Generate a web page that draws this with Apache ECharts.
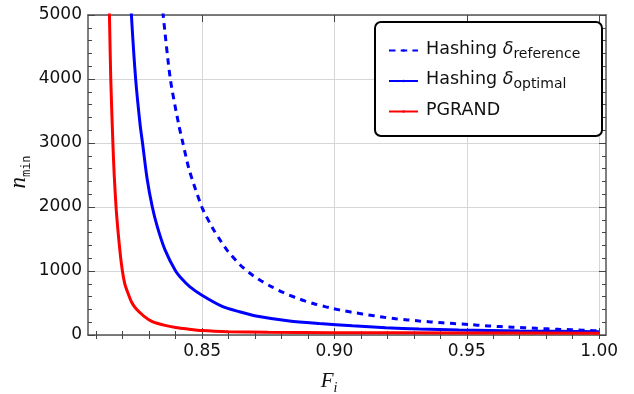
<!DOCTYPE html>
<html><head><meta charset="utf-8">
<script src="https://cdn.jsdelivr.net/npm/echarts@6/dist/echarts.min.js"></script>
<style>html,body{margin:0;padding:0;background:#fff}#c{width:634px;height:394px}</style>
</head><body><div id="c"></div>
<script>
// ---- data ----
const seriesNames = ['Hashing δ reference', 'Hashing δ optimal', 'PGRAND'];
const xMajorTicks = [0.85, 0.90, 0.95, 1.00];
const xTickLabels = ['0.85', '0.90', '0.95', '1.00'];
const xMinorTicks = [0.81,0.82,0.83,0.84,0.85,0.86,0.87,0.88,0.89,0.90,0.91,0.92,0.93,0.94,0.95,0.96,0.97,0.98,0.99,1.00];
const yTickLabels = ['0', '1000', '2000', '3000', '4000', '5000'];

const hashRef = [
  [0.8340,5600],[0.8353,5000],[0.8380,4000],[0.8412,3281],[0.8427,3010],[0.8450,2600],
  [0.8476,2266],[0.8502,1970],[0.8528,1760],[0.8547,1620],[0.8572,1460],[0.8597,1310],
  [0.8628,1165],[0.8654,1055],[0.8692,930],[0.8724,845],[0.8762,755],[0.8806,665],
  [0.8850,590],[0.8888,533],[0.8925,485],[0.8968,440],[0.9018,393],[0.9062,358],
  [0.9106,328],[0.9150,300],[0.9188,277],[0.9232,255],[0.9276,236],[0.9320,219],
  [0.9364,204],[0.9408,191],[0.9452,178],[0.9494,167],[0.9540,154],[0.9584,142],
  [0.9628,131],[0.9672,121],[0.9716,113],[0.9760,105],[0.9804,97],[0.9849,89],
  [0.9893,82],[0.9937,75],[0.9980,68],[1.0000,66]
];
const hashOpt = [
  [0.8224,5800],[0.8233,5000],[0.8249,4000],[0.8266,3281],[0.8275,3000],[0.8292,2450],
  [0.8312,2000],[0.8331,1690],[0.8360,1330],[0.8400,1000],[0.8425,870],[0.8452,760],
  [0.8498,625],[0.8578,443],[0.8640,365],[0.8704,297],[0.8830,219],[0.8943,180],
  [0.9068,145],[0.9194,114],[0.9320,94],[0.9470,78],[0.9700,64],[1.0000,52]
];
const pgrand = [
  [0.8147,5600],[0.8150,5000],[0.8155,4000],[0.8163,3000],[0.8168,2500],[0.8175,2000],
  [0.8182,1640],[0.8190,1300],[0.8199,1000],[0.8208,800],[0.8218,677],[0.8233,520],
  [0.8249,417],[0.8280,295],[0.8312,208],[0.8360,150],[0.8400,118],[0.8445,94],
  [0.8500,70],[0.8600,52],[0.8750,42],[0.9000,36],[0.9500,32],[1.0000,28]
];

// ---- chart ----
const XMIN = 0.8069, XMAX = 1.0026;
const frame = {show: true, onZero: false, lineStyle: {color: '#555', width: 1.5}};
const tickStyle = {color: '#444', width: 1};
const lab = {fontFamily: 'DejaVu Sans', fontSize: 17, color: '#111'};

function xAx(pos, major, extra) {
  return Object.assign({
    type: 'value', min: XMIN, max: XMAX, position: pos,
    axisLine: major ? frame : {show: false},
    axisTick: {show: true, inside: true, length: major ? 7 : 4, lineStyle: tickStyle,
               customValues: major ? xMajorTicks : xMinorTicks},
    axisLabel: {show: false},
    splitLine: {show: false}
  }, extra || {});
}

const chart = echarts.init(document.getElementById('c'), null, {renderer: 'canvas'});
chart.setOption({
  animation: false,
  backgroundColor: '#fff',
  grid: {left: 88, right: 28, top: 15, bottom: 59, containLabel: false, outerBoundsMode: 'none'},
  xAxis: [
    xAx('bottom', true, {
      axisLabel: Object.assign({show: true, margin: 8, customValues: xMajorTicks,
        formatter: v => xTickLabels[xMajorTicks.findIndex(t => Math.abs(t - v) < 1e-6)]}, lab),
      splitLine: {show: true, lineStyle: {color: '#d6d6d6', width: 1}},
      name: '{f|F}{s|i}', nameLocation: 'middle', nameGap: 36,
      nameTextStyle: {padding: [0, 36, 0, 0], rich: {
        f: {fontFamily: 'Liberation Serif', fontStyle: 'italic', fontSize: 21, color: '#111', verticalAlign: 'bottom', padding: [0,0,3,0]},
        s: {fontFamily: 'Liberation Serif', fontStyle: 'italic', fontSize: 14, color: '#111', verticalAlign: 'bottom'}
      }}
    }),
    xAx('top', true),
    xAx('bottom', false),
    xAx('top', false)
  ],
  yAxis: [
    {type: 'value', min: 0, max: 5000, interval: 1000, position: 'left',
     axisLine: frame,
     axisTick: {show: true, inside: true, length: 7, lineStyle: tickStyle},
     minorTick: {show: true, splitNumber: 5, length: 4, lineStyle: tickStyle},
     axisLabel: Object.assign({margin: 6, formatter: v => yTickLabels[Math.round(v / 1000)]}, lab),
     splitLine: {show: true, lineStyle: {color: '#d6d6d6', width: 1}},
     name: '{n|n}{s|min}', nameLocation: 'middle', nameGap: 55, nameMoveOverlap: false,
     nameTextStyle: {padding: [0, 0, 0, 6], rich: {
       n: {fontFamily: 'Liberation Serif', fontStyle: 'italic', fontSize: 23, color: '#111', verticalAlign: 'bottom', padding: [0,0,3,0]},
       s: {fontFamily: 'DejaVu Sans Mono', fontSize: 12, color: '#111', verticalAlign: 'bottom'}
     }}
    },
    {type: 'value', min: 0, max: 5000, interval: 1000, position: 'right',
     axisLine: frame,
     axisTick: {show: true, inside: true, length: 7, lineStyle: tickStyle},
     minorTick: {show: true, splitNumber: 5, length: 4, lineStyle: tickStyle},
     axisLabel: {show: false}, splitLine: {show: false}}
  ],
  graphic: [{
    type: 'rect', z: 3, left: 374, top: 21,
    shape: {width: 227, height: 114, r: 6},
    style: {fill: '#fff', stroke: '#000', lineWidth: 2}
  }],
  legend: {
    z: 10, orient: 'vertical', left: 383, top: 35, itemWidth: 29, itemHeight: 3, itemGap: 9.5,
    data: seriesNames,
    formatter: function (name) {
      if (name === seriesNames[0]) return '{a|Hashing }{d|δ}{s|reference}';
      if (name === seriesNames[1]) return '{a|Hashing }{d|δ}{s|optimal}';
      return '{a|PGRAND}';
    },
    textStyle: {rich: {
      a: {fontFamily: 'DejaVu Sans', fontSize: 17.5, color: '#111', verticalAlign: 'bottom', padding: [0,0,3,3]},
      d: {fontFamily: 'DejaVu Sans', fontStyle: 'italic', fontSize: 17.5, color: '#111', verticalAlign: 'bottom', padding: [0,0,3,0]},
      s: {fontFamily: 'DejaVu Sans', fontSize: 14, color: '#111', verticalAlign: 'bottom'}
    }}
  },
  series: [
    {name: seriesNames[0], type: 'line', data: hashRef, showSymbol: false, symbol: 'none',
     smooth: 0.25, clip: true,
     lineStyle: {color: '#0000ff', width: 3, type: [6.5, 5.2]}, itemStyle: {color: '#0000ff'}},
    {name: seriesNames[1], type: 'line', data: hashOpt, showSymbol: false, symbol: 'none',
     smooth: 0.25, clip: true,
     lineStyle: {color: '#0000ff', width: 3}, itemStyle: {color: '#0000ff'}},
    {name: seriesNames[2], type: 'line', data: pgrand, showSymbol: false, symbol: 'none',
     smooth: 0.25, clip: true,
     lineStyle: {color: '#ff0000', width: 3}, itemStyle: {color: '#ff0000'}}
  ]
});
</script></body></html>
